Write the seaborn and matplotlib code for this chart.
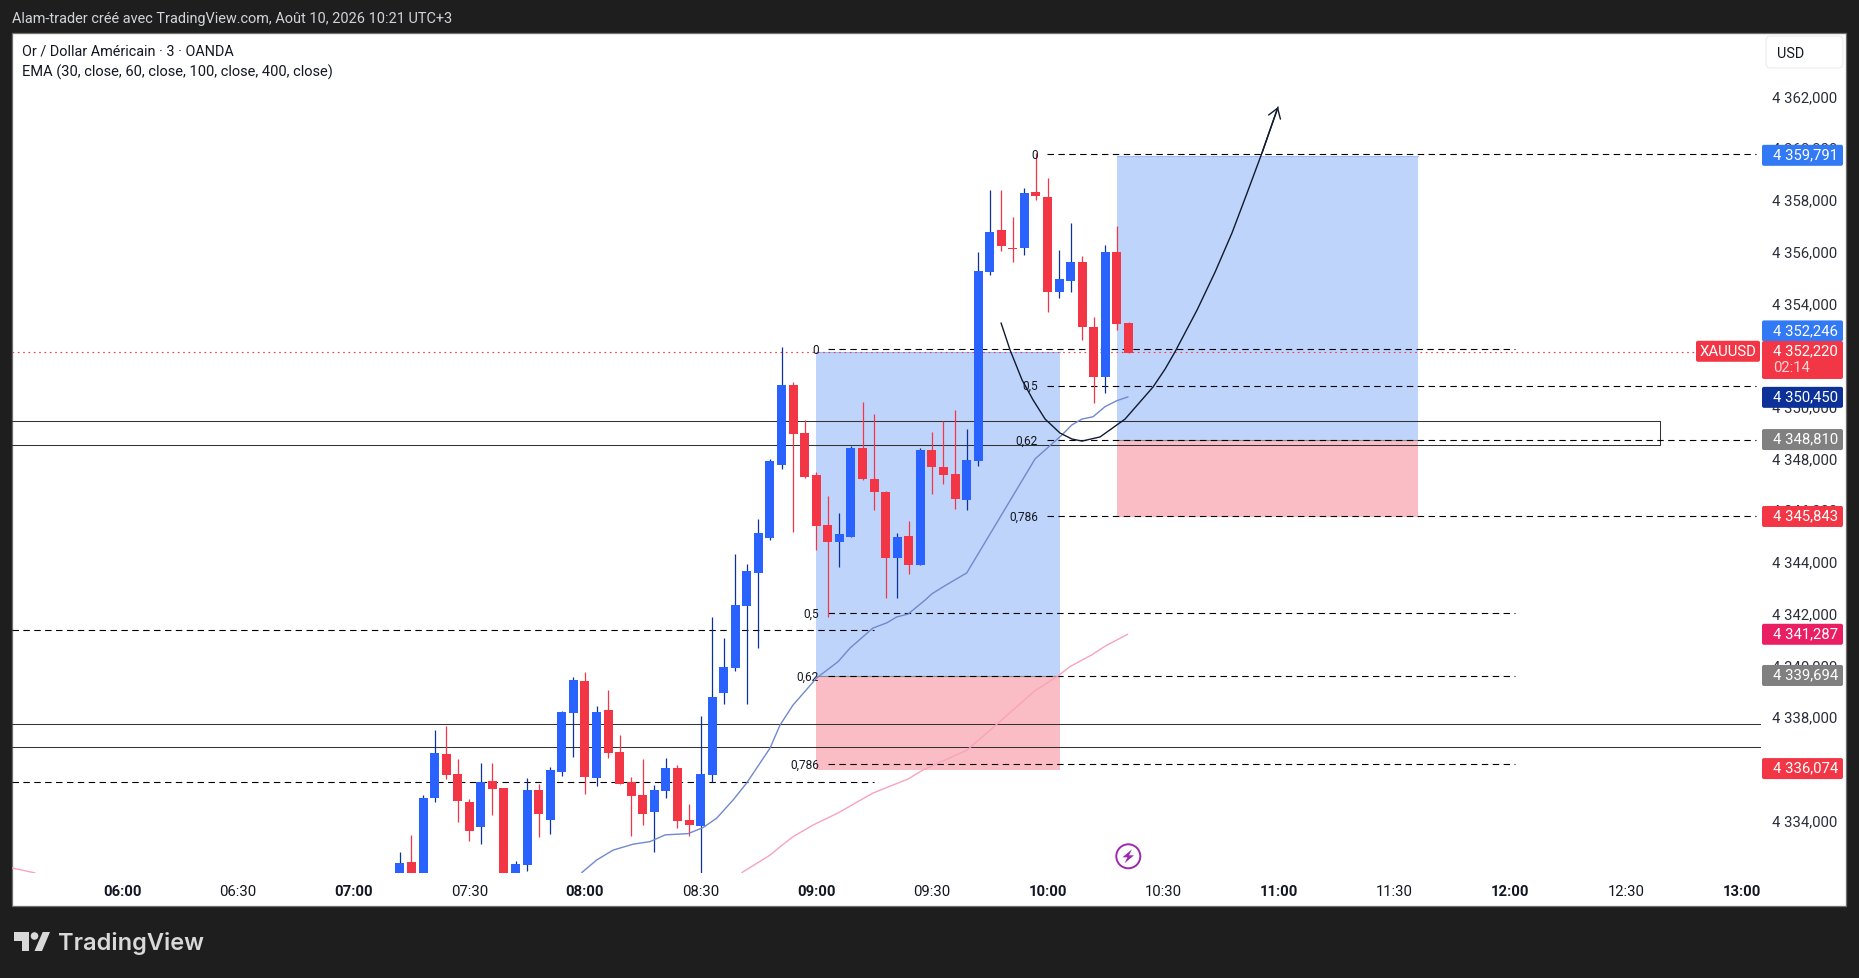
import matplotlib
matplotlib.use('Agg')
import matplotlib.pyplot as plt
from matplotlib.patches import Rectangle, FancyBboxPatch, Polygon, Circle
from matplotlib.transforms import ScaledTranslation
import numpy as np
import pandas as pd
import seaborn as sns

# candles, x is bar number counted from 06:00 (one bar = 3 min)
first_bar = 24
opens = [4331.60, 4332.44, 4331.80, 4334.93, 4336.62, 4335.85, 4334.76, 4333.79, 4335.57, 4335.30, 4331.20,
         4332.33, 4335.22, 4334.07, 4335.92, 4338.20, 4339.44, 4335.69, 4338.32, 4336.70, 4335.54, 4335.03,
         4334.37, 4335.19, 4336.08, 4334.07, 4333.83, 4335.81, 4338.98, 4339.94, 4342.34, 4343.62, 4344.97,
         4347.79, 4350.89, 4349.03, 4347.41, 4345.47, 4344.82, 4345.01, 4348.45, 4347.25, 4346.75, 4344.20,
         4345.05, 4343.93, 4348.38, 4347.72, 4347.45, 4346.44, 4347.95, 4355.26, 4356.88, 4356.19, 4356.19,
         4358.35, 4358.16, 4354.49, 4354.91, 4355.65, 4353.13, 4351.20, 4356.03, 4353.29]
highs = [4332.81, 4333.47, 4335.02, 4337.55, 4337.70, 4336.43, 4334.88, 4336.27, 4336.27, 4335.30, 4332.48,
         4335.69, 4335.46, 4336.12, 4338.28, 4339.60, 4339.79, 4338.47, 4339.09, 4337.35, 4335.73, 4336.43,
         4335.42, 4336.46, 4336.19, 4334.69, 4338.09, 4341.92, 4341.10, 4344.35, 4343.97, 4345.71, 4348.03,
         4352.36, 4351.00, 4349.54, 4347.52, 4346.60, 4345.94, 4348.53, 4350.23, 4349.77, 4346.79, 4345.17,
         4345.63, 4348.45, 4349.07, 4349.50, 4349.92, 4349.19, 4356.03, 4358.43, 4358.43, 4357.39, 4358.51,
         4359.86, 4358.89, 4356.11, 4357.15, 4355.88, 4353.52, 4356.30, 4357.04, 4353.33]
lows = [4331.40, 4331.30, 4331.50, 4334.76, 4335.65, 4333.99, 4333.25, 4333.14, 4334.26, 4331.00, 4331.00,
        4332.09, 4333.41, 4333.52, 4335.77, 4336.50, 4335.07, 4335.38, 4336.46, 4335.46, 4333.45, 4333.87,
        4332.83, 4334.92, 4333.76, 4333.45, 4331.90, 4335.54, 4338.55, 4339.83, 4338.55, 4340.72, 4344.89,
        4347.64, 4345.20, 4347.29, 4344.51, 4341.92, 4343.85, 4345.01, 4347.21, 4346.05, 4342.65, 4342.65,
        4343.58, 4343.93, 4346.67, 4347.06, 4346.09, 4346.05, 4347.76, 4355.14, 4356.07, 4355.65, 4355.92,
        4358.04, 4353.71, 4354.25, 4354.49, 4352.63, 4350.19, 4350.58, 4353.01, 4352.13]
closes = [4332.40, 4331.50, 4334.92, 4336.66, 4335.81, 4334.80, 4333.64, 4335.54, 4335.26, 4331.20, 4332.36,
          4335.22, 4334.30, 4336.00, 4338.24, 4339.48, 4335.73, 4338.24, 4336.66, 4335.46, 4334.99, 4334.30,
          4335.22, 4336.08, 4334.03, 4333.87, 4335.85, 4338.82, 4339.98, 4342.38, 4343.69, 4345.17, 4347.95,
          4350.89, 4348.99, 4347.33, 4345.44, 4344.82, 4345.13, 4348.45, 4347.25, 4346.75, 4344.20, 4345.01,
          4343.93, 4348.38, 4347.72, 4347.41, 4346.48, 4347.99, 4355.30, 4356.81, 4356.27, 4356.15, 4358.31,
          4358.20, 4354.49, 4354.99, 4355.65, 4353.13, 4351.20, 4356.03, 4353.25, 4352.13]

# moving averages
ema_blue_x = [39.72, 41.02, 42.43, 44.16, 45.63, 46.93, 48.92, 50.21, 51.40, 52.81, 53.99, 56.01, 56.87, 57.99,
              60.04, 61.89, 62.93, 64.91, 66.10, 66.96, 67.94, 69.41, 69.99, 71.14, 73.01, 78.92, 81.23, 82.09,
              82.96, 83.93, 84.97, 85.98, 86.96]
ema_blue_y = [4332.03, 4332.52, 4332.90, 4333.13, 4333.23, 4333.49, 4333.54, 4333.77, 4334.14, 4334.84, 4335.50,
              4336.85, 4337.74, 4338.51, 4339.56, 4340.19, 4340.72, 4341.49, 4341.69, 4341.92, 4342.03, 4342.57,
              4342.81, 4343.13, 4343.62, 4348.03, 4348.95, 4349.34, 4349.57, 4349.66, 4350.05, 4350.28, 4350.43]
ema_pink_x = [53.56, 56.01, 56.87, 57.99, 59.72, 61.89, 64.91, 67.94, 69.23, 73.04, 75.64, 78.92, 80.82, 81.95,
              83.82, 84.98, 86.93]
ema_pink_y = [4332.03, 4332.71, 4333.03, 4333.42, 4333.87, 4334.34, 4335.11, 4335.65, 4336.00, 4336.77, 4337.78,
              4339.07, 4339.61, 4340.00, 4340.45, 4340.79, 4341.25]
ema_pink_left_x = [-9.54, -7.55]
ema_pink_left_y = [4332.21, 4332.02]

# hand drawn projection
path_x = [75.98, 76.76, 77.80, 78.75, 79.79, 81.08, 82.11, 82.98, 84.54, 86.70, 89.12, 90.17, 91.02, 92.93, 94.49,
          95.95, 97.25, 98.54, 99.93]
path_y = [4353.29, 4352.24, 4351.08, 4350.31, 4349.57, 4349.03, 4348.80, 4348.72, 4348.88, 4349.57, 4350.81,
          4351.51, 4352.17, 4353.79, 4355.26, 4356.77, 4358.31, 4359.86, 4361.64]

# fib levels: label, price
fib_labels = ['0', '0,5', '0,62', '0,786']
fib_low = [4352.27, 4342.06, 4339.62, 4336.23]
fib_high = [4359.81, 4350.86, 4348.76, 4345.82]
fib_low_span = (61.0, 120.4)
fib_high_span = (79.96, 141.26)

# position boxes: left, right, top, entry, stop
box_low = (60.0, 81.08, 4352.18, 4339.62, 4336.00)
box_high = (86.0, 112.03, 4359.75, 4348.76, 4345.78)

dashed_left = [4341.40, 4335.52]
solid_levels = [4337.77, 4336.88]
zone = (4349.50, 4348.57)
last_price_line = 4352.16

price_ticks = list(range(4334, 4364, 2))
time_ticks = list(range(0, 150, 10))
time_labels = ['06:00', '06:30', '07:00', '07:30', '08:00', '08:30', '09:00', '09:30', '10:00', '10:30',
               '11:00', '11:30', '12:00', '12:30', '13:00']

# badge text, price it belongs to, colour, pixel nudge
badge_text = ['4 359,791', '4 352,246', '4 350,450', '4 348,810', '4 345,843', '4 341,287', '4 339,694', '4 336,074']
badge_price = [4359.791, 4352.246, 4350.450, 4348.810, 4345.843, 4341.287, 4339.694, 4336.074]
badge_color = ['#3179f5', '#3179f5', '#0c3299', '#808080', '#f23645', '#e91e63', '#808080', '#f23645']
badge_nudge = [0.5, -19, 1, 0.8, 1, 1, 1, 0.5]

BLUE = '#2962ff'
WICK_BLUE = '#0c3299'
RED = '#f23645'
INK = '#131722'

sns.set_theme(style='white')
plt.rcParams['font.family'] = ['Roboto', 'DejaVu Sans']

W, H = 1859, 979
fig = plt.figure(figsize=(W / 100, H / 100), dpi=100, facecolor='#1e1e1e')


def px_axes(left, top, right, bottom, **kw):
    return fig.add_axes([left / W, 1 - bottom / H, (right - left) / W, (bottom - top) / H], **kw)


# white card behind everything
bg = fig.add_axes([0, 0, 1, 1], zorder=0)
bg.set_xlim(0, W)
bg.set_ylim(H, 0)
bg.axis('off')
bg.add_patch(Rectangle((12, 33.5), 1834.5, 873.3, fc='white', ec='#6f6f6f', lw=0.9))

ax = px_axes(12, 34, 1761, 874, zorder=1)
ax.patch.set_visible(False)
ax.set_xlim(-9.54, 141.69)
ax.set_ylim(4332.016, 4364.502)

# position boxes
for left, right, top_p, entry, stop in [box_low, box_high]:
    ax.fill_between([left, right], entry, top_p, color='#bfd4fb', lw=0, zorder=1)
    ax.fill_between([left, right], stop, entry, color='#fbbdc5', lw=0, zorder=1)
    ax.plot([left, right], [entry, entry], color='#8a8a8a', lw=0.8, zorder=1.2)
    ax.plot([left, right], [top_p, top_p], color='#9dbcf8', lw=0.8, zorder=1.2)

dash = (0, (5.8, 4))
for lvl in dashed_left:
    ax.plot([-9.54, 65.0], [lvl, lvl], color='black', lw=0.8, ls=dash, zorder=2)
for lvl in solid_levels:
    ax.axhline(lvl, color='#333333', lw=0.75, zorder=2)
ax.add_patch(Rectangle((-12, zone[1]), 133.0 + 12, zone[0] - zone[1], fc='none', ec='#333333', lw=0.75, zorder=2))
ax.plot([-9.54, 136.0], [last_price_line, last_price_line], color=RED, lw=0.8, ls=(0, (1.5, 3.3)), zorder=2)

for prices, span in [(fib_low, fib_low_span), (fib_high, fib_high_span)]:
    for lab, lvl in zip(fib_labels, prices):
        ax.plot(span, [lvl, lvl], color='black', lw=0.8, ls=dash, zorder=2)
        ax.text(span[0] - 0.78, lvl, lab, ha='right', va='center', fontsize=8.6, color=INK, zorder=5)

# candles
bars = first_bar + np.arange(len(opens))
opens_a, closes_a = np.array(opens), np.array(closes)
up = closes_a >= opens_a
ax.vlines(bars[up], np.array(lows)[up], np.array(highs)[up], color=WICK_BLUE, lw=0.9, zorder=3)
ax.vlines(bars[~up], np.array(lows)[~up], np.array(highs)[~up], color=RED, lw=0.9, zorder=3)
ax.bar(bars[up], (closes_a - opens_a)[up], bottom=opens_a[up], width=0.78, color=BLUE, lw=0, zorder=4)
ax.bar(bars[~up], (opens_a - closes_a)[~up], bottom=closes_a[~up], width=0.78, color=RED, lw=0, zorder=4)

# moving averages and projection
ema_blue = pd.DataFrame({'bar': ema_blue_x, 'price': ema_blue_y})
ema_pink = pd.DataFrame({'bar': ema_pink_x, 'price': ema_pink_y})
ema_pink_left = pd.DataFrame({'bar': ema_pink_left_x, 'price': ema_pink_left_y})
path = pd.DataFrame({'bar': path_x, 'price': path_y})
sns.lineplot(data=ema_blue, x='bar', y='price', color='#7089cf', lw=1.0, sort=False, estimator=None, ax=ax, zorder=5)
for d in [ema_pink, ema_pink_left]:
    sns.lineplot(data=d, x='bar', y='price', color='#f8a3bd', lw=1.0, sort=False, estimator=None, ax=ax, zorder=5)
sns.lineplot(data=path, x='bar', y='price', color='#111a2e', lw=1.0, sort=False, estimator=None, ax=ax, zorder=6)
ax.annotate('', xy=(path_x[-1], path_y[-1]), xytext=(path_x[-2], path_y[-2]),
            arrowprops=dict(arrowstyle='->,head_length=0.45,head_width=0.3', color='#111a2e', lw=1.0,
                            mutation_scale=15, shrinkA=0, shrinkB=0), zorder=6)

ax.set_xlabel('')
ax.set_ylabel('')
ax.set_xlim(-9.54, 141.69)
ax.set_ylim(4332.016, 4364.502)
sns.despine(ax=ax, left=True, bottom=True)
ax.yaxis.tick_right()
ax.set_yticks(price_ticks)
ax.set_yticklabels([f'{v // 1000} {v % 1000:03d},000' for v in price_ticks])
ax.set_xticks(time_ticks)
ax.set_xticklabels(time_labels)
for i, t in enumerate(ax.get_xticklabels()):
    t.set_fontweight('bold' if i % 2 == 0 else 'normal')
ax.tick_params(axis='y', length=0, pad=8, labelsize=10.7, labelcolor='#2a2e39')
ax.tick_params(axis='x', length=0, pad=8, labelsize=10.7, labelcolor=INK)
lift = ScaledTranslation(0, 2.2 / 100, fig.dpi_scale_trans)
for t in ax.get_yticklabels():
    t.set_transform(t.get_transform() + lift)

# everything that sits on top of the chart, in pixels
top = fig.add_axes([0, 0, 1, 1], zorder=2)
top.set_xlim(0, W)
top.set_ylim(H, 0)
top.axis('off')


def price_px(p):
    return H - ax.transData.transform((0, p))[1]


def badge(y_mid, height, color, left=1762, right=1843):
    top.add_patch(FancyBboxPatch((left + 1, y_mid - height / 2 + 1), right - left - 2, height - 2,
                                 boxstyle='round,pad=1,rounding_size=2', fc=color, ec='none'))


for txt, p, col, nudge in zip(badge_text, badge_price, badge_color, badge_nudge):
    y = price_px(p) + nudge
    badge(y, 21, col)
    top.text(1773, y - 0.8, txt, color='white', fontsize=10.7, ha='left', va='center')

# current price badge with countdown
y_last = price_px(4352.220)
badge(y_last + 9.4, 38, RED)
top.text(1773, y_last - 0.4, '4 352,220', color='white', fontsize=10.7, ha='left', va='center')
top.text(1773, y_last + 16.4, '02:14', color='#fcd4d8', fontsize=10.7, ha='left', va='center')
badge(y_last + 0.7, 21, RED, left=1696, right=1760)
top.text(1728, y_last + 0.7, 'XAUUSD', color='white', fontsize=10.7, ha='center', va='center')

# USD button
top.add_patch(FancyBboxPatch((1769, 40), 71, 26, boxstyle='round,pad=3,rounding_size=5', fc='white', ec='#ececec', lw=0.8))
top.text(1777, 54.5, 'USD', color=INK, fontsize=10.4, ha='left', va='center')

# captions
top.text(12.3, 18.8, 'Alam-trader créé avec TradingView.com, Août 10, 2026 10:21 UTC+3', color='#d1d4dc', fontsize=10.45,
         ha='left', va='center')
top.text(22, 51, 'Or / Dollar Américain · 3 · OANDA', color=INK, fontsize=10.4, ha='left', va='center')
top.text(22, 72, 'EMA (30, close, 60, close, 100, close, 400, close)', color=INK, fontsize=10.5, ha='left', va='center')

# lightning mark
top.add_patch(Circle((1128.3, 857.3), 12, fc='white', ec='#9c27b0', lw=1.4))
top.add_patch(Polygon([(1132, 850.3), (1122.5, 858.3), (1127.5, 858.3), (1124.5, 864.3), (1134, 856.3), (1129, 856.3)],
                      closed=True, fc='#9c27b0', ec='none'))

# TradingView logo
logo = '#d9d9d9'
top.add_patch(Polygon([(14, 933), (29.5, 933), (29.5, 952), (21.7, 952), (21.7, 941.5), (14, 941.5)],
                      closed=True, fc=logo, ec='none'))
top.add_patch(Circle((34.5, 937), 3.8, fc=logo, ec='none'))
top.add_patch(Polygon([(42.7, 933), (50, 933), (42, 952), (34.5, 952)], closed=True, fc=logo, ec='none'))
top.text(58.5, 943.5, 'TradingView', color=logo, fontsize=17.0, fontweight='semibold', family='Inter', ha='left', va='center')

fig.savefig('out.png', dpi=100, facecolor=fig.get_facecolor())
